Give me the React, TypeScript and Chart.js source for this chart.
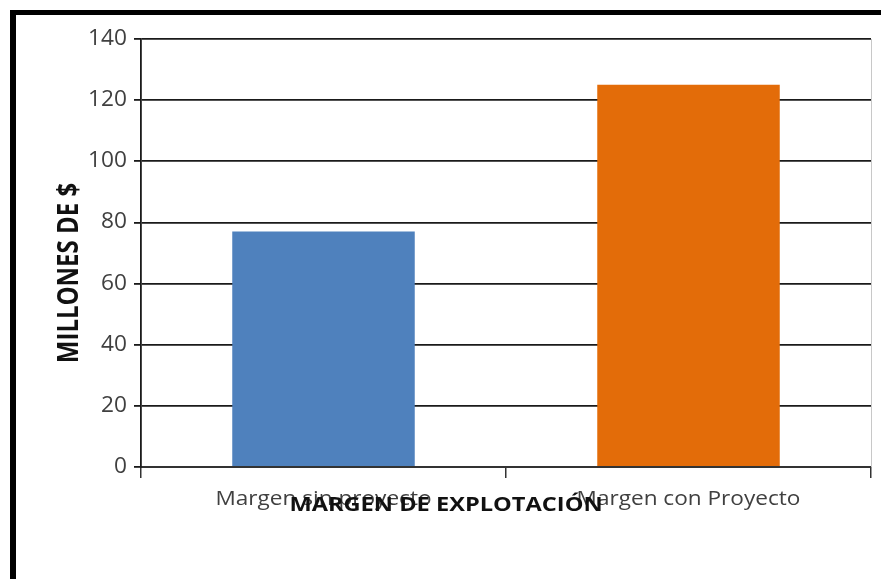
import React, { useEffect, useRef } from "react";
import { Chart, registerables } from "chart.js";

Chart.register(...registerables);

const categories = ["Margen sin proyecto", "Margen con Proyecto"];
const values = [77, 125];
const barColors = ["#4F81BD", "#E36C09"];
const yTickValues = [0, 20, 40, 60, 80, 100, 120, 140];
const yTitle = "MILLONES DE $";
const xTitle = "MARGEN DE EXPLOTACIÓN";
const FONT = "'Open Sans', sans-serif";

function stretchedText(ctx: any, text: string, x: number, y: number, sx: number, align: string) {
  ctx.save();
  ctx.translate(x, y);
  ctx.scale(sx, 1);
  ctx.textAlign = align;
  ctx.fillText(text, 0, 0);
  ctx.restore();
}

const textPlugin = {
  id: "texts",
  afterDraw(chart: any) {
    const ctx = chart.ctx;
    const a = chart.chartArea;
    const xs = chart.scales.x;
    const ys = chart.scales.y;
    ctx.save();
    ctx.strokeStyle = "#c8c8c8";
    ctx.lineWidth = 1;
    ctx.beginPath();
    ctx.moveTo(a.right + 0.5, a.top);
    ctx.lineTo(a.right + 0.5, a.bottom);
    ctx.stroke();

    ctx.textBaseline = "middle";
    // y tick labels
    ctx.fillStyle = "#404040";
    ctx.font = `21px ${FONT}`;
    yTickValues.forEach((v) => {
      stretchedText(ctx, String(v), 127, ys.getPixelForValue(v), 1.08, "right");
    });
    // category labels
    ctx.font = `20px ${FONT}`;
    categories.forEach((c, i) => {
      stretchedText(ctx, c, xs.getPixelForValue(i), 499, 1.13, "center");
    });
    // axis titles
    ctx.fillStyle = "#111";
    ctx.font = `bold 20px ${FONT}`;
    stretchedText(ctx, xTitle, 446, 505, 1.18, "center");
    ctx.font = `bold 24px ${FONT}`;
    ctx.translate(70, 273);
    ctx.scale(1.2, 1);
    ctx.rotate(-Math.PI / 2);
    ctx.textAlign = "center";
    ctx.fillText(yTitle, 0, 0);
    ctx.restore();
  },
};

export default function App() {
  const ref = useRef<HTMLCanvasElement>(null);
  useEffect(() => {
    const chart = new Chart(ref.current!, {
      type: "bar",
      data: {
        labels: categories,
        datasets: [
          {
            data: values,
            backgroundColor: barColors,
            barPercentage: 0.5,
            categoryPercentage: 1,
          },
        ],
      },
      options: {
        animation: false,
        responsive: false,
        maintainAspectRatio: false,
        layout: { padding: { left: 0, top: 39, right: 10, bottom: 0 } },
        plugins: { legend: { display: false }, tooltip: { enabled: false } },
        scales: {
          x: {
            afterFit: (s: any) => {
              s.height = 112;
            },
            grid: {
              drawOnChartArea: false,
              tickLength: 11,
              color: "#333",
              lineWidth: 1.5,
            },
            border: { color: "#333", width: 2 },
            ticks: { display: false },
          },
          y: {
            min: 0,
            max: 140,
            afterFit: (s: any) => {
              s.width = 141;
            },
            grid: { color: "#1a1a1a", lineWidth: 1.8, tickLength: 7 },
            border: { color: "#1a1a1a", width: 1.8 },
            ticks: { display: false, stepSize: 20 },
          },
        },
      },
      plugins: [textPlugin],
    });
    return () => chart.destroy();
  }, []);
  return (
    <div style={{ position: "absolute", left: 0, top: 0, width: 881, height: 579, overflow: "hidden", background: "#fff" }}>
      <div
        style={{
          position: "absolute",
          left: 10,
          top: 10,
          width: 880,
          height: 600,
          borderTop: "5px solid #000",
          borderLeft: "6px solid #000",
          boxSizing: "border-box",
        }}
      />
      <canvas ref={ref} width={881} height={579} style={{ position: "absolute", left: 0, top: 0 }} />
    </div>
  );
}
